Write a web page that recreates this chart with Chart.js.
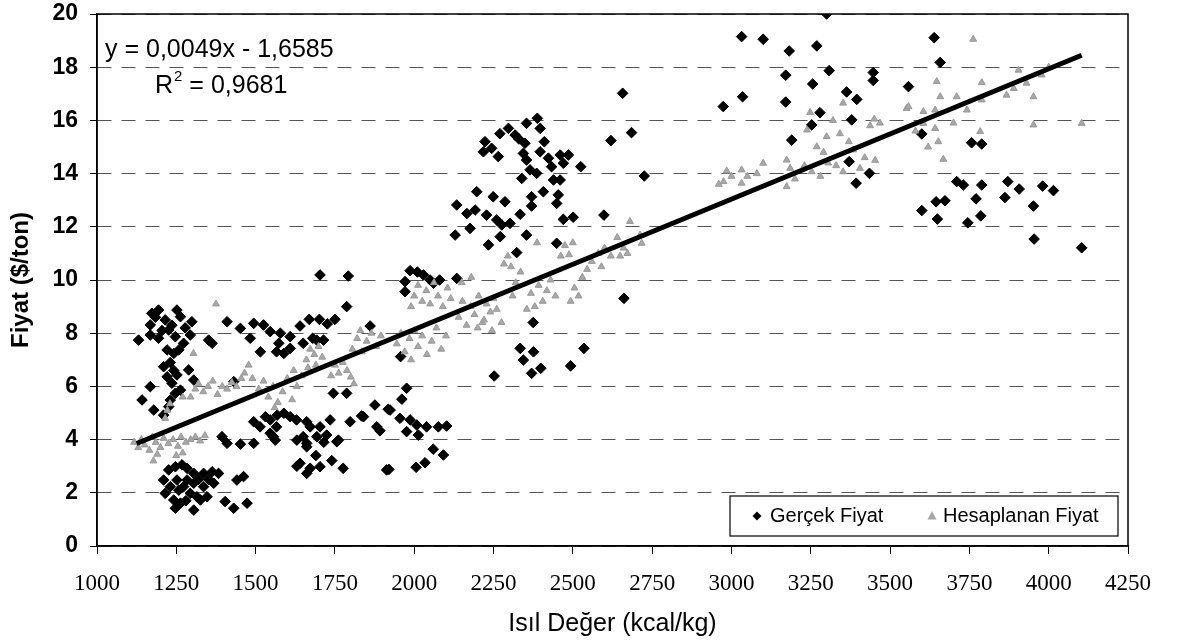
<!DOCTYPE html>
<html>
<head>
<meta charset="utf-8">
<script src="https://cdn.jsdelivr.net/npm/chart.js@4.4.0/dist/chart.umd.min.js"></script>
<style>
html,body{margin:0;padding:0;background:#fff;}
#wrap{width:1183px;height:640px;}
</style>
</head>
<body>
<div id="wrap"><canvas id="c" width="1183" height="640"></canvas></div>
<script>
// ---- data ----
const xTickStep = 250, xMin = 1000, xMax = 4250;
const yTickStep = 2, yMin = 0, yMax = 20;
const seriesNames = ['Gerçek Fiyat', 'Hesaplanan Fiyat'];
const trendSlope = 0.0049;
const trendIntercept = -1.6585;
const trendR2 = 0.9681;
const trendXRange = [1125, 4104];

const gercekPoints = [
 [1131,7.74],[1168,8.31],[1168,7.93],[1173,8.75],[1184,8.6],[1194,8.87],[1194,7.81],[1205,8.1],[1215,8.5],[1221,7.37],[1226,8.12],[1236,8.3],[1242,7.24],[1247,7.87],[1252,8.87],[1258,7.37],[1263,8.62],[1273,7.62],[1278,8.2],[1294,7.93],[1299,8.43],
 [1210,6.74],[1221,6.36],[1231,6.9],[1236,6.12],[1242,6.6],[1247,5.74],[1231,5.49],[1226,5.24],[1210,4.92],[1289,6.62],[1305,6.24],[1252,6.43],[1168,5.99],[1142,5.49],[1179,5.11],[1263,5.86],
 [1226,2.86],[1247,2.98],[1268,3.05],[1284,2.92],[1305,2.73],[1252,2.48],[1231,2.23],[1273,2.23],[1294,1.98],[1242,1.73],[1263,1.61],[1315,1.85],[1336,2.73],[1363,2.79],[1336,2.23],[1368,2.36],[1347,1.85],[1326,1.73],[1247,1.42],[1305,1.35],[1441,2.48],[1462,2.61],[1404,1.67],[1431,1.42],[1473,1.61],[1383,2.73],[1210,2.48],[1215,1.98],[1284,2.48],[1305,2.36],[1258,2.1],[1320,2.5],[1280,1.7],[1352,2.5],
 [1410,8.43],[1452,8.18],[1352,7.74],[1363,7.62],[1431,6.18],[1394,4.11],[1410,3.86],[1452,3.83],[1494,3.86],
 [1494,8.37],[1525,8.31],[1483,7.81],[1515,7.3],[1546,8.06],[1578,8.0],[1573,7.62],[1589,7.24],[1609,7.87],[1609,7.43],[1566,7.3],[1494,4.67],[1531,4.86],[1546,4.74],[1568,4.92],[1589,4.99],[1609,4.86],[1546,4.24],[1562,3.98],[1556,4.11],[1566,4.48],[1514,4.48],[1630,3.98],
 [1640,8.27],[1669,8.52],[1701,8.52],[1726,8.35],[1750,8.52],[1680,7.81],[1650,7.62],[1693,7.74],[1714,7.74],[1703,10.19],[1792,10.15],[1787,9.0],[1861,8.27],[1745,5.74],[1787,5.74],[1735,4.74],[1703,4.48],[1661,4.67],[1629,4.74],[1672,4.48],[1650,4.11],[1693,4.11],[1724,4.17],[1756,3.92],[1661,3.73],[1640,3.11],[1672,2.92],[1703,2.98],[1740,3.21],[1776,2.92],[1661,2.73],[1798,4.67],[1690,3.4],[1715,3.9],[1630,3.0],[1761,3.98],[1661,3.86],
 [1987,10.35],[2029,10.19],[2050,10.0],[2061,9.88],[1971,9.94],[1971,9.56],[2134,10.06],[2080,10.0],[2010,10.3],[1957,7.12],[1976,5.93],[1961,5.52],[1924,5.11],[1955,4.8],[1892,4.33],[1987,4.74],[2008,4.55],[2039,4.48],[2076,4.48],[2102,4.51],[1976,4.3],[2013,4.17],[2060,3.64],[2092,3.42],[2034,3.13],[2006,2.96],[1920,2.88],[1876,5.3],[1918,5.14],[1834,4.89],[1882,4.48],[1840,4.86],[1913,2.86],
 [2354,15.89],[2388,16.08],[2397,15.7],[2297,15.7],[2318,15.45],[2223,15.2],[2244,14.95],[2265,14.64],[2349,15.14],[2344,14.76],[2354,14.51],[2365,14.14],[2397,14.82],[2423,14.58],[2433,14.26],[2460,14.7],[2486,14.7],[2470,14.39],[2339,13.82],[2386,14.01],[2439,13.76],[2460,13.76],[2197,13.32],[2249,13.13],[2286,12.94],[2370,13.13],[2370,12.78],[2407,13.32],[2454,13.2],[2449,12.88],[2334,12.47],[2166,12.5],[2192,12.63],[2228,12.44],[2260,12.26],[2276,12.07],[2302,12.13],[2470,12.28],[2501,12.36],[2176,11.94],[2354,11.69],[2271,11.63],[2234,11.32],[2323,11.03],[2449,11.38],[2134,12.82],[2129,11.69],[2218,14.82],[2270,15.5],[2330,15.3],[2410,15.2],[2525,14.26],[2598,12.44],[2620,15.24],[2685,15.54],[2657,17.02],[2725,13.91],[2661,9.31],[2535,7.43],[2334,7.43],[2376,7.3],[2344,6.99],[2370,6.49],[2399,6.68],[2493,6.77],[2252,6.39],[2375,8.4],
 [3300,20.0],[3032,19.15],[3100,19.05],[3182,18.61],[3269,18.8],[3308,17.87],[3171,17.7],[3256,17.37],[3363,17.07],[3395,16.79],[3035,16.89],[2974,16.52],[3171,16.69],[3279,16.29],[3379,16.02],[3253,15.83],[3190,15.26],[3371,14.45],[3435,14.01],[3393,13.64],[3639,19.11],[3658,18.18],[3447,17.8],[3447,17.5],[3558,17.27],[3600,15.49],[3757,15.16],[3789,15.11],[3710,13.7],[3731,13.57],[3789,13.57],[3871,13.7],[3907,13.42],[3981,13.53],[4015,13.36],[3645,12.94],[3673,12.98],[3771,13.05],[3862,13.1],[3600,12.61],[3952,12.78],[3649,12.29],[3745,12.15],[3786,12.41],[3954,11.54],[4104,11.21]
];

const hesapPoints = [
 [1117,3.9],[1130,3.7],[1140,4.0],[1150,3.8],[1165,3.6],[1175,4.1],[1185,3.9],[1200,3.7],[1210,4.05],[1225,3.85],[1240,4.0],[1255,3.75],[1265,4.1],[1280,3.9],[1295,4.0],[1310,4.1],[1325,3.95],[1178,3.2],[1190,3.45],[1250,3.4],[1270,3.5],[1340,4.15],
 [1215,4.8],[1222,5.1],[1230,5.35],
 [1295,5.6],[1310,5.9],[1320,6.1],[1335,5.8],[1350,6.0],[1365,6.2],[1380,5.7],[1395,6.0],[1410,5.9],[1425,6.15],[1440,6.0],[1455,6.3],[1270,5.6],
 [1465,6.5],[1478,6.8],[1490,6.3],[1375,9.1],[1304,7.24],
 [1510,5.9],[1525,6.2],[1540,5.6],[1555,6.0],[1570,5.4],[1585,5.8],[1600,6.3],[1615,5.5],[1630,6.0],[1645,6.4],[1560,5.2],[1620,6.6],
 [1660,7.0],[1672,7.4],[1685,7.2],[1698,7.5],[1710,7.1],[1665,6.7],[1690,6.8],
 [1738,6.4],[1750,6.8],[1762,6.5],[1775,6.9],[1788,6.6],[1800,6.35],
 [1805,7.4],[1820,7.8],[1835,7.3],[1850,7.7],[1865,8.0],[1880,7.5],[1895,7.9],[1830,8.1],[1810,6.1],
 [1945,7.6],[1958,8.0],[1970,7.3],[1985,7.8],[2000,8.1],[2012,7.5],[2025,7.9],[2040,7.2],[2055,7.7],[2070,8.2],[2085,7.4],[2100,7.9],[1990,7.0],
 [1990,9.0],[2000,9.4],[2012,9.8],[2025,9.2],[2038,9.6],[2050,9.1],[2062,9.9],[2075,9.4],[2090,9.0],[2105,9.7],[2115,9.3],
 [2140,8.6],[2152,9.2],[2165,8.3],[2178,9.0],[2190,8.7],[2203,9.4],[2215,8.4],[2228,9.1],[2240,8.8],[2150,9.9],[2180,10.1],
 [2200,8.2],[2220,8.5],[2245,8.1],[2260,8.9],[2275,8.4],[2250,9.3],
 [2283,10.6],[2295,10.9],[2305,10.5],[2320,9.9],[2335,10.3],[2310,9.4],
 [2355,8.9],[2368,9.5],[2380,9.0],[2392,9.8],[2405,9.2],[2418,9.6],[2430,10.0],[2445,9.4],
 [2462,10.9],[2475,11.3],[2488,10.95],[2500,11.4],[2493,9.2],[2505,9.7],[2518,9.4],[2530,10.1],[2387,11.4],[2545,10.4],
 [2560,10.7],[2580,11.0],[2600,11.2],[2620,10.9],[2649,10.9],[2660,11.2],[2672,11.0],[2680,12.2],[2717,11.38],[2712,11.69],[2640,11.6],[2590,10.5],
 [2975,13.7],[2985,14.1],[3000,13.9],[3032,14.14],[3032,13.64],[3050,13.9],[3100,14.39],[3080,14.0],[2960,13.6],
 [3174,14.51],[3174,13.51],[3185,14.2],[3238,15.64],[3248,16.3],[3253,14.07],[3269,15.01],[3300,15.39],[3305,14.4],[3320,16.0],[3342,15.5],[3352,16.65],[3352,14.07],[3384,14.89],[3405,14.2],[3437,15.8],[3450,16.05],[3468,15.9],[3453,14.5],[3420,14.6],[3230,14.3],[3290,14.8],[3370,15.2],[3200,13.8],[3280,13.9],[3330,14.3],
 [3552,16.45],[3558,16.52],[3605,16.33],[3642,16.39],[3742,16.39],[3605,15.89],[3642,15.7],[3652,15.2],[3668,14.54],[3647,17.46],[3658,16.89],[3710,16.89],[3789,16.77],[3784,15.58],[3789,17.42],[3762,19.05],[3700,15.9],[3620,15.0],[3580,15.6],
 [3867,16.95],[3905,17.89],[3978,17.71],[3952,16.89],[3952,15.83],[4104,15.89],[3930,17.4],[4000,18.0],[3890,17.2]
];

const trendPoints = trendXRange.map(x => ({x: x, y: trendSlope * x + trendIntercept}));
const fmt = v => String(v).replace('.', ',');
const eqText = 'y = ' + fmt(trendSlope) + 'x - ' + fmt(Math.abs(trendIntercept));
const r2Text = ' = ' + fmt(trendR2);

// ---- plugins ----
const framePlugin = {
  id: 'frame',
  afterDatasetsDraw(chart) {
    const {ctx, chartArea: a} = chart;
    ctx.save();
    ctx.strokeStyle = '#000';
    ctx.lineWidth = 1.5;
    ctx.strokeRect(a.left, a.top, a.right - a.left, a.bottom - a.top);
    ctx.restore();
  }
};

const annotPlugin = {
  id: 'annot',
  afterDraw(chart) {
    const ctx = chart.ctx;
    const F = '"Liberation Sans", Arial, sans-serif';
    ctx.save();
    ctx.fillStyle = '#000';
    ctx.textBaseline = 'middle';
    ctx.textAlign = 'left';
    ctx.font = '25px ' + F;
    ctx.fillText(eqText, 105, 50);
    ctx.fillText('R', 155, 86);
    const wR = ctx.measureText('R').width;
    ctx.font = '15px ' + F;
    ctx.fillText('2', 155 + wR + 1, 77);
    const w2 = ctx.measureText('2').width;
    ctx.font = '25px ' + F;
    ctx.fillText(r2Text, 155 + wR + 1 + w2, 86);

    // legend box
    const bx = 730, by = 496, bw = 388, bh = 40;
    ctx.fillStyle = '#fff';
    ctx.fillRect(bx, by, bw, bh);
    ctx.strokeStyle = '#000';
    ctx.lineWidth = 1.2;
    ctx.strokeRect(bx, by, bw, bh);
    const cy = by + bh / 2;
    ctx.fillStyle = '#000';
    ctx.beginPath();
    ctx.moveTo(757 - 4.5, cy); ctx.lineTo(757, cy - 4.5); ctx.lineTo(757 + 4.5, cy); ctx.lineTo(757, cy + 4.5); ctx.closePath();
    ctx.fill();
    ctx.font = '20px ' + F;
    ctx.fillText(seriesNames[0], 770, cy);
    ctx.fillStyle = '#a6a6a6';
    ctx.beginPath();
    ctx.moveTo(932, cy - 5); ctx.lineTo(936.5, cy + 3.5); ctx.lineTo(927.5, cy + 3.5); ctx.closePath();
    ctx.fill();
    ctx.fillStyle = '#000';
    ctx.fillText(seriesNames[1], 943, cy);
    ctx.restore();
  }
};

new Chart(document.getElementById('c'), {
  type: 'scatter',
  data: {
    datasets: [
      {
        type: 'line', label: 'trend', data: trendPoints, order: 0,
        borderColor: '#000', borderWidth: 5, pointRadius: 0, fill: false, tension: 0
      },
      {
        label: seriesNames[1], data: hesapPoints.map(p => ({x: p[0], y: p[1]})), order: 1,
        pointStyle: 'triangle', pointRadius: 4, backgroundColor: '#a8a8a8', borderColor: '#999', borderWidth: 1
      },
      {
        label: seriesNames[0], data: gercekPoints.map(p => ({x: p[0], y: p[1]})), order: 2,
        pointStyle: 'rectRot', pointRadius: 5.3, backgroundColor: '#000', borderColor: '#000', borderWidth: 1
      }
    ]
  },
  options: {
    responsive: false,
    animation: false,
    events: [],
    layout: {padding: {left: 0, right: 55, top: 14, bottom: 0}},
    plugins: {legend: {display: false}, tooltip: {enabled: false}, title: {display: false}},
    scales: {
      x: {
        type: 'linear', min: xMin, max: xMax,
        afterFit: s => { s.height = 94; s.paddingLeft = 0; s.paddingRight = 0; },
        ticks: {stepSize: xTickStep, color: '#000', padding: 16, maxRotation: 0, autoSkip: false,
          callback: v => String(v),
          font: {family: '"Liberation Serif", "Times New Roman", serif', size: 23}},
        grid: {drawOnChartArea: false, drawTicks: true, tickLength: 8, color: '#000', lineWidth: 1},
        border: {display: true, color: '#000', width: 1.5},
        title: {display: true, text: 'Isıl Değer (kcal/kg)', color: '#000', padding: {top: 0, bottom: 1},
          font: {family: '"Liberation Sans", Arial, sans-serif', size: 25}}
      },
      y: {
        type: 'linear', min: yMin, max: yMax,
        afterFit: s => { s.width = 97; s.paddingTop = 0; s.paddingBottom = 0; },
        ticks: {stepSize: yTickStep, color: '#000', padding: 12,
          font: {family: '"Liberation Sans", Arial, sans-serif', size: 23, weight: 'bold'}},
        grid: {color: '#555', lineWidth: 1, tickLength: 7, tickColor: '#000', tickBorderDash: [], drawTicks: true},
        border: {display: true, color: '#000', width: 1.5, dash: [14, 10]},
        title: {display: true, text: 'Fiyat ($/ton)', color: '#000', padding: {top: 7, bottom: 0},
          font: {family: '"Liberation Sans", Arial, sans-serif', size: 24, weight: 'bold'}}
      }
    }
  },
  plugins: [framePlugin, annotPlugin]
});
</script>
</body>
</html>
